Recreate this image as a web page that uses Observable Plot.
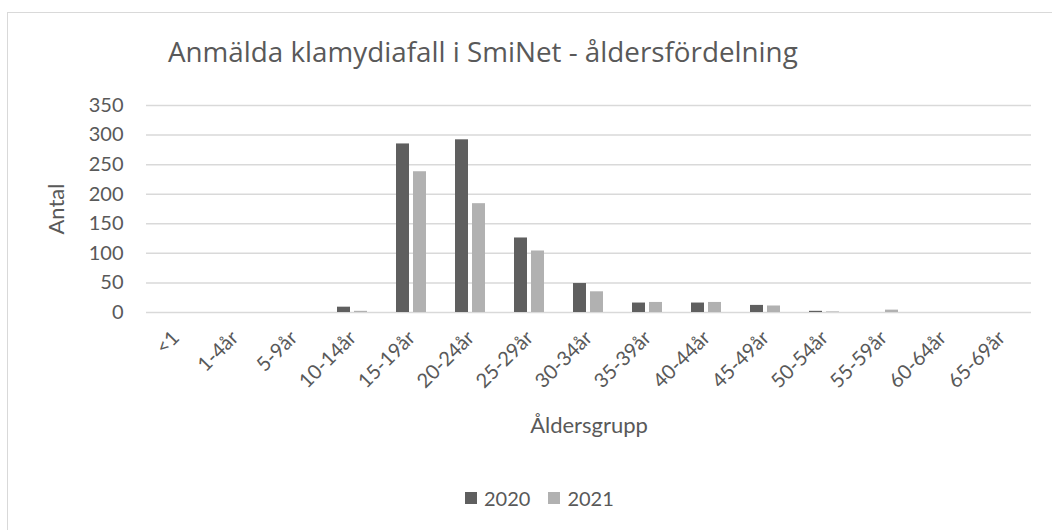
<!DOCTYPE html>
<html><head><meta charset="utf-8">
<script src="https://cdn.jsdelivr.net/npm/d3@7"></script>
<script src="https://cdn.jsdelivr.net/npm/@observablehq/plot@0.6"></script>
<style>
body{margin:0;background:#fff;font-family:Lato,sans-serif;}
#wrap{position:relative;width:1052px;height:530px;overflow:hidden;background:#fff;}
#frame{position:absolute;left:7px;top:12px;width:1100px;height:600px;border:1px solid #d9d9d9;box-sizing:border-box;}
#chart{position:absolute;left:0;top:0;}
#title{position:absolute;left:168px;top:37px;font-family:"Open Sans",sans-serif;font-size:27.8px;line-height:28px;color:#595959;white-space:nowrap;}
#legend{position:absolute;left:465px;top:488px;display:flex;align-items:center;font-size:20px;line-height:20px;color:#595959;}
#legend .item{display:flex;align-items:center;margin-right:18px;}
#legend .sw{width:12px;height:12px;margin-right:7px;}
</style></head>
<body>
<div id="wrap">
  <div id="frame"></div>
  <div id="chart"></div>
  <div id="title">Anmälda klamydiafall i SmiNet - åldersfördelning</div>
  <div id="legend"></div>
</div>
<script>
const categories = ["<1","1-4år","5-9år","10-14år","15-19år","20-24år","25-29år","30-34år","35-39år","40-44år","45-49år","50-54år","55-59år","60-64år","65-69år"];
const values2020 = [0,0,0,9,285,292,126,49,16,16,12,2,0,0,0];
const values2021 = [0,0,0,2,238,184,104,35,17,17,11,1,4,0,0];
const years = ["2020","2021"];
const yearColors = ["#5f5f5f","#b1b1b1"];
const yTicks = [0,50,100,150,200,250,300,350];

const seriesValues = [values2020, values2021];
const data = categories.flatMap((cat, i) => years.map((year, j) => ({cat, year, value: seriesValues[j][i]})));

const chart = Plot.plot({
  width: 1052, height: 530,
  marginLeft: 140, marginRight: 16, marginTop: 105, marginBottom: 218,
  style: {fontFamily: "Lato, sans-serif", color: "#595959", background: "transparent", overflow: "visible"},
  fx: {domain: categories, padding: 0, axis: null},
  x: {domain: years, paddingInner: 0.23, paddingOuter: 0.84, axis: null},
  y: {domain: [0, 350], axis: null},
  color: {domain: years, range: yearColors},
  marks: [
    Plot.ruleY(yTicks, {stroke: "#d9d9d9", strokeWidth: 1.5}),
    Plot.barY(data, {fx: "cat", x: "year", y: "value", fill: "year"}),
    Plot.axisY({ticks: yTicks, tickSize: 0, tickPadding: 23, fontSize: 20, label: null, tickFormat: d => String(d)}),
    Plot.axisY({ticks: [], tickSize: 0, fontSize: 22, label: "Antal", labelArrow: "none", labelAnchor: "center", labelOffset: 98}),
    Plot.axisFx({anchor: "bottom", tickRotate: -45, tickSize: 0, tickPadding: 22, fontSize: 20, label: null}),
    Plot.axisFx({anchor: "bottom", ticks: [], tickSize: 0, fontSize: 22, label: "Åldersgrupp", labelAnchor: "center", labelOffset: 120})
  ]
});
document.getElementById("chart").appendChild(chart);

const legend = document.getElementById("legend");
years.forEach((y, i) => {
  const item = document.createElement("div");
  item.className = "item";
  const sw = document.createElement("div");
  sw.className = "sw";
  sw.style.background = yearColors[i];
  const t = document.createElement("span");
  t.textContent = y;
  item.appendChild(sw); item.appendChild(t);
  legend.appendChild(item);
});
</script>
</body></html>
